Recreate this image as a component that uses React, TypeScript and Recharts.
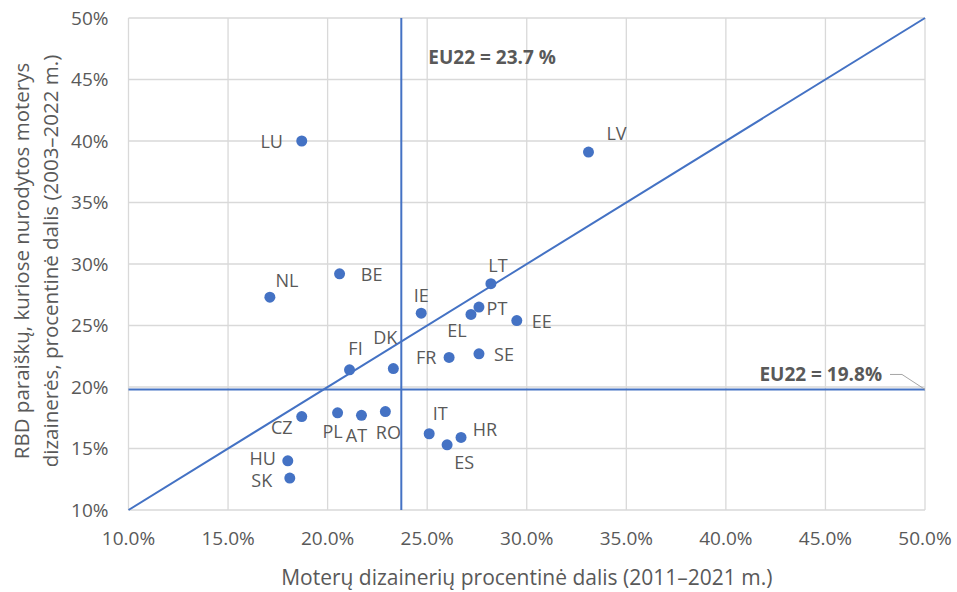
import React from "react";
import {
  ScatterChart,
  Scatter,
  XAxis,
  YAxis,
  CartesianGrid,
  ReferenceLine,
} from "recharts";

// ─── Data ─────────────────────────────────────────────────────────────────────

const countries = [
  "LU", "LV", "NL", "BE", "IE", "LT", "PT", "EL", "EE", "FR", "SE",
  "FI", "DK", "CZ", "PL", "AT", "RO", "IT", "HR", "ES", "HU", "SK",
];

// x: share of women designers (2011–2021), %
const womenDesignerShare = [
  18.7, 33.1, 17.1, 20.6, 24.7, 28.2, 27.6, 27.2, 29.5, 26.1, 27.6,
  21.1, 23.3, 18.7, 20.5, 21.7, 22.9, 25.1, 26.7, 26.0, 18.0, 18.1,
];

// y: share of RCD applications naming women designers (2003–2022), %
const rcdWomenShare = [
  40.0, 39.1, 27.3, 29.2, 26.0, 28.4, 26.5, 25.9, 25.4, 22.4, 22.7,
  21.4, 21.5, 17.6, 17.9, 17.7, 18.0, 16.2, 15.9, 15.3, 14.0, 12.6,
];

const xTicks = [10, 15, 20, 25, 30, 35, 40, 45, 50];
const yTicks = [10, 15, 20, 25, 30, 35, 40, 45, 50];

const euDesignerShare = 23.7;
const euRcdShare = 19.8;

const points = countries.map((name, i) => ({
  name,
  x: womenDesignerShare[i],
  y: rcdWomenShare[i],
}));

// label placement around each dot (dx, dy in px)
const labelOffsets: Record<string, [number, number]> = {
  LU: [-30, 0], LV: [28, -19], NL: [17, -17], BE: [32, 0], IE: [0, -18],
  LT: [7, -19], PT: [18, 1], EL: [-14, 16], EE: [25, 0], FR: [-23, 0],
  SE: [25, 0], FI: [6, -22], DK: [-8, -32], CZ: [-20, 10], PL: [-5, 18],
  AT: [-5, 20], RO: [3, 20], IT: [11, -21], HR: [24, -8], ES: [17, 17],
  HU: [-25, -3], SK: [-28, 2],
};

// ─── Styles ───────────────────────────────────────────────────────────────────

const FONT = "'Open Sans', sans-serif";
const TEXT = "#595959";
const GRID = "#d9d9d9";
const BLUE = "#4472c4";
const TICK_FS = 19;
const TITLE_FS = 20.5;

// ─── Pieces ───────────────────────────────────────────────────────────────────

function CountryDot(props: any) {
  const { cx, cy, payload } = props;
  const [dx, dy] = labelOffsets[payload.name] ?? [20, 0];
  return (
    <g>
      <circle cx={cx} cy={cy} r={5.5} fill={BLUE} />
      <text
        x={cx + dx}
        y={cy + dy}
        textAnchor="middle"
        dominantBaseline="central"
        fill={TEXT}
        fontSize={18}
        fontFamily={FONT}
      >
        {payload.name}
      </text>
    </g>
  );
}

function XTitle(props: any) {
  const { viewBox } = props;
  return (
    <text
      x={viewBox.x + viewBox.width / 2}
      y={viewBox.y + 67}
      textAnchor="middle"
      dominantBaseline="central"
      fill={TEXT}
      fontSize={21}
      fontFamily={FONT}
    >
      Moterų dizainerių procentinė dalis (2011–2021 m.)
    </text>
  );
}

function YTitle(props: any) {
  const { viewBox } = props;
  const cy = viewBox.y + viewBox.height / 2 - 3;
  const lines = [
    { x: 21, t: "RBD paraiškų, kuriose nurodytos moterys" },
    { x: 50, t: "dizainerės, procentinė dalis (2003–2022 m.)" },
  ];
  return (
    <g>
      {lines.map((l) => (
        <text
          key={l.x}
          x={l.x}
          y={cy}
          transform={`rotate(-90, ${l.x}, ${cy})`}
          textAnchor="middle"
          dominantBaseline="central"
          fill={TEXT}
          fontSize={TITLE_FS}
          fontFamily={FONT}
        >
          {l.t}
        </text>
      ))}
    </g>
  );
}

function VerticalEuLabel(props: any) {
  const { viewBox } = props;
  return (
    <text
      x={viewBox.x + 27}
      y={viewBox.y + 39}
      dominantBaseline="central"
      fill={TEXT}
      fontSize={19}
      fontWeight="bold"
      fontFamily={FONT}
    >
      EU22 = {euDesignerShare.toFixed(1)} %
    </text>
  );
}

function HorizontalEuLabel(props: any) {
  const { viewBox } = props;
  const right = viewBox.x + viewBox.width;
  const ty = viewBox.y - 15;
  return (
    <g>
      <text
        x={right - 43}
        y={ty}
        textAnchor="end"
        dominantBaseline="central"
        fill={TEXT}
        fontSize={19}
        fontWeight="bold"
        fontFamily={FONT}
      >
        EU22 = {euRcdShare.toFixed(1)}%
      </text>
      <path
        d={`M${right - 35},${ty} L${right - 23},${ty} L${right},${viewBox.y}`}
        stroke="#a6a6a6"
        fill="none"
        strokeWidth={1}
      />
    </g>
  );
}

// ─── Chart ────────────────────────────────────────────────────────────────────

export default function App() {
  return (
    <div
      style={{
        position: "absolute",
        left: 0,
        top: 0,
        width: 957,
        height: 592,
        background: "#fff",
      }}
    >
      <ScatterChart
        width={957}
        height={592}
        margin={{ top: 18, right: 32, bottom: 0, left: 0 }}
      >
        <CartesianGrid stroke={GRID} strokeWidth={1.3} />
        <XAxis
          type="number"
          dataKey="x"
          domain={[10, 50]}
          ticks={xTicks}
          tickFormatter={(v: number) => `${v.toFixed(1)}%`}
          height={82}
          axisLine={false}
          tickLine={false}
          tickSize={0}
          tickMargin={22}
          tick={{ fill: TEXT, fontSize: TICK_FS, fontFamily: FONT }}
          label={<XTitle />}
        />
        <YAxis
          type="number"
          dataKey="y"
          domain={[10, 50]}
          ticks={yTicks}
          tickFormatter={(v: number) => `${v}%`}
          width={128.5}
          axisLine={false}
          tickLine={false}
          tickSize={0}
          tickMargin={20}
          tick={{ fill: TEXT, fontSize: TICK_FS, fontFamily: FONT }}
          label={<YTitle />}
        />

        {/* parity line */}
        <ReferenceLine
          segment={[
            { x: 10, y: 10 },
            { x: 50, y: 50 },
          ]}
          stroke={BLUE}
          strokeWidth={2}
        />

        {/* EU averages */}
        <ReferenceLine
          x={euDesignerShare}
          stroke={BLUE}
          strokeWidth={2}
          label={<VerticalEuLabel />}
        />
        <ReferenceLine
          y={euRcdShare}
          stroke={BLUE}
          strokeWidth={2}
          label={<HorizontalEuLabel />}
        />

        <Scatter
          data={points}
          shape={<CountryDot />}
          isAnimationActive={false}
        />
      </ScatterChart>
    </div>
  );
}
